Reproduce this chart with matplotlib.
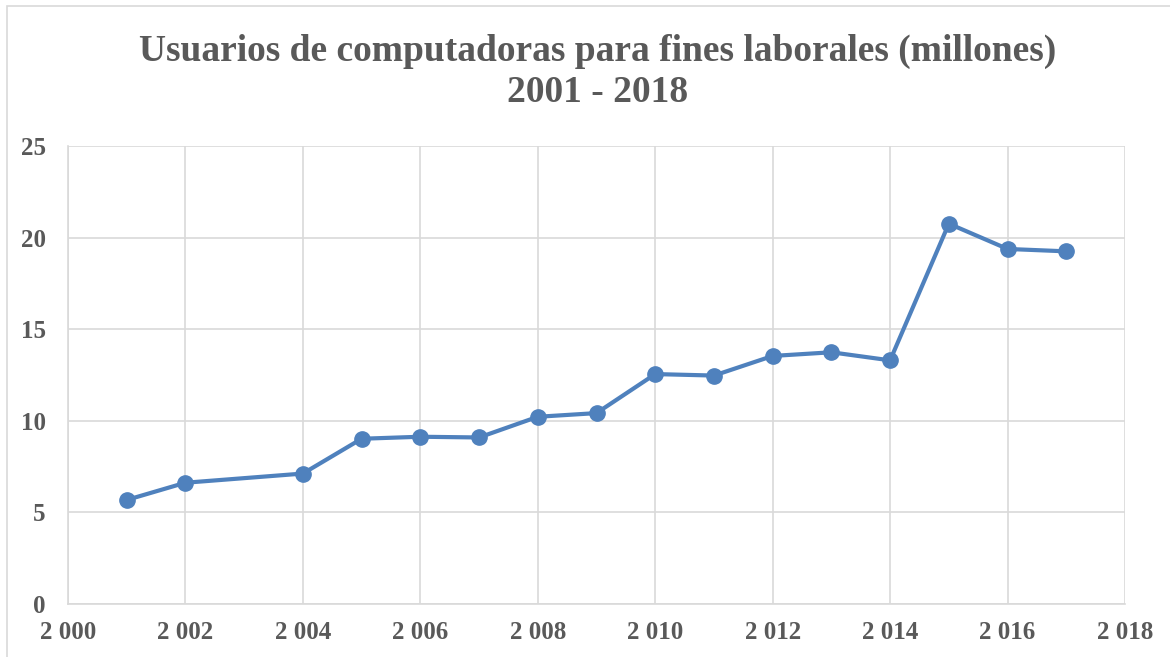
import matplotlib.pyplot as plt
from matplotlib.patches import Rectangle
from matplotlib.ticker import FuncFormatter

years = [2001, 2002, 2004, 2005, 2006, 2007, 2008, 2009, 2010,
         2011, 2012, 2013, 2014, 2015, 2016, 2017]
usuarios = [5.68, 6.62, 7.12, 9.02, 9.13, 9.09, 10.22, 10.42, 12.55,
            12.47, 13.54, 13.74, 13.30, 20.76, 19.38, 19.25]

title = "Usuarios de computadoras para fines laborales (millones)\n2001 - 2018"
gris = "#595959"
azul = "#4F81BD"

plt.rcParams['font.family'] = ['Liberation Serif', 'DejaVu Serif']

fig = plt.figure(figsize=(11.7, 6.57), dpi=100)
ax = fig.add_axes([68 / 1170, 1 - 604 / 657, (1125 - 68) / 1170, (604 - 146) / 657])

# marco del gráfico
fig.patches.append(Rectangle((7 / 1170, -0.05), 1.1, 1 - 6 / 657 + 0.05,
                             transform=fig.transFigure, fill=False,
                             edgecolor="#D9D9D9", linewidth=1.2))

ax.plot(years, usuarios, color=azul, linewidth=3, marker="o", markersize=11,
        zorder=3)

ax.set_xlim(2000, 2018)
ax.set_ylim(0, 25)
ax.set_xticks(range(2000, 2019, 2))
ax.set_yticks(range(0, 26, 5))
ax.xaxis.set_major_formatter(FuncFormatter(lambda v, p: f"{int(v):,}".replace(",", " ")))
ax.grid(True, color="#D9D9D9", linewidth=1.2)
ax.set_axisbelow(True)
for s in ["top", "right"]:
    ax.spines[s].set_visible(False)
for s in ["left", "bottom"]:
    ax.spines[s].set_color("#D9D9D9")
    ax.spines[s].set_linewidth(1.2)
ax.tick_params(length=0, labelsize=18, labelcolor=gris)
ax.tick_params(axis="y", pad=16)
ax.tick_params(axis="x", pad=12)
for lab in ax.get_xticklabels() + ax.get_yticklabels():
    lab.set_fontweight("bold")

fig.text(598 / 1170, 1 - 72 / 657, title, ha="center", va="center",
         fontsize=27, fontweight="bold", color=gris, linespacing=1.2)

fig.savefig("out.png", dpi=100)
